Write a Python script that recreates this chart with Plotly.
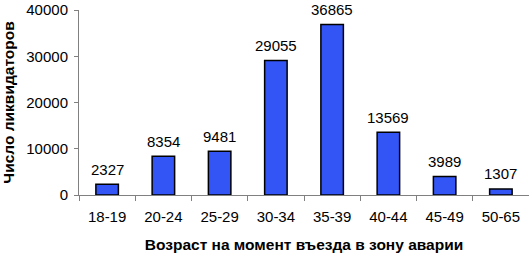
import plotly.graph_objects as go

categories = ["18-19", "20-24", "25-29", "30-34", "35-39", "40-44", "45-49", "50-65"]
values = [2327, 8354, 9481, 29055, 36865, 13569, 3989, 1307]
y_ticks = [0, 10000, 20000, 30000, 40000]
y_tick_labels = ["0", "10000", "20000", "30000", "40000"]

FONT = "Liberation Sans, Arial"

fig = go.Figure(go.Bar(
    x=categories, y=values,
    marker=dict(color="#3355f5", line=dict(color="black", width=1.5)),
    cliponaxis=False,
))
for c, v in zip(categories, values):
    fig.add_annotation(x=c, y=v, text=str(v), showarrow=False,
                       yanchor="middle", yshift=15,
                       font=dict(family=FONT, size=15, color="black"))
fig.update_layout(
    width=529, height=254,
    margin=dict(l=79, r=0, t=10, b=59),
    paper_bgcolor="white", plot_bgcolor="white",
    bargap=0.6, showlegend=False,
    font=dict(family=FONT, size=15, color="black"),
)
fig.update_xaxes(
    automargin=False,
    showline=True, linecolor="#808080", linewidth=1,
    ticks="outside", tickson="boundaries", ticklen=5, tickcolor="#808080",
    tickfont=dict(size=15), ticklabelstandoff=8,
    title=dict(text="<b>Возраст на момент въезда в зону аварии</b>", font=dict(size=15.5)),
)
fig.update_yaxes(
    automargin=False,
    range=[0, 40000], tickvals=y_ticks, ticktext=y_tick_labels, showgrid=False,
    showline=True, linecolor="#808080", linewidth=1,
    ticks="outside", ticklen=4, tickcolor="#808080",
    tickfont=dict(size=15), ticklabelstandoff=3,
    title=dict(text="<b>Число ликвидаторов</b>", font=dict(size=15.5)),
    zeroline=False,
)
fig.write_html("out.html", config={"displayModeBar": False},
               post_script="document.body.style.margin='0';")
